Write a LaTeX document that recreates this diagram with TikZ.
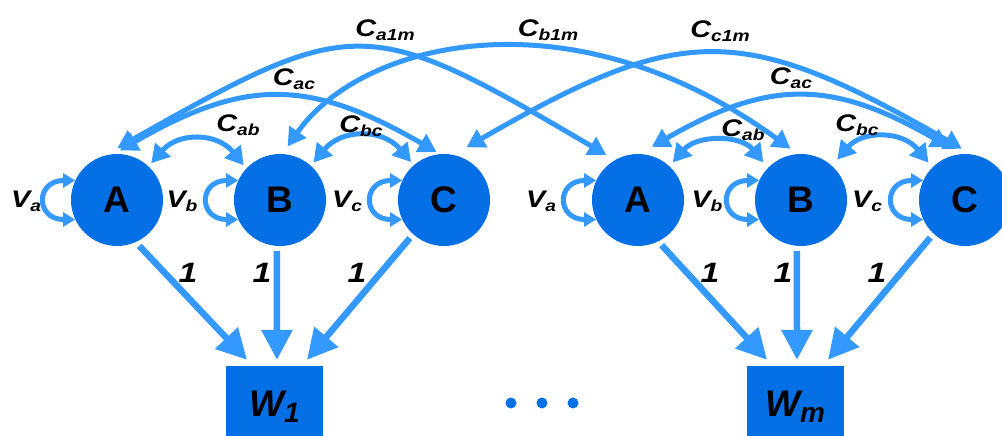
\documentclass[tikz,border=0pt]{standalone}
\usepackage{fontspec}
\setmainfont{Liberation Sans}
\newfontfamily\labfont[FakeStretch=1.2]{Liberation Sans}
\usetikzlibrary{arrows.meta}

\definecolor{nodeblue}{RGB}{5,112,230}
\definecolor{arrowblue}{RGB}{51,153,255}

% letter with a lowered subscript
\newcommand{\lbl}[2]{#1\raisebox{-4pt}{\fontsize{16}{16}\selectfont #2}}
\newcommand{\wsub}[1]{W\raisebox{-6pt}{\fontsize{28}{28}\selectfont #1}}

\tikzset{
    factor/.style={circle, fill=nodeblue, minimum size=92pt, inner sep=0pt,
        font=\fontsize{37}{40}\selectfont\bfseries},
    wbox/.style={rectangle, fill=nodeblue, minimum width=97pt, minimum height=82pt,
        inner sep=0pt, font=\fontsize{37}{40}\selectfont\bfseries\itshape},
    loading/.style={draw=arrowblue, line width=6.5pt, -{Triangle[width=30pt,length=30pt]}},
    covarc/.style={draw=arrowblue, line width=5pt,
        {Triangle[width=20pt,length=18pt]}-{Triangle[width=20pt,length=18pt]}},
    varloop/.style={draw=arrowblue, line width=5pt,
        {Triangle[width=14pt,length=12pt]}-{Triangle[width=14pt,length=12pt]}},
    lab/.style={font=\labfont\fontsize{24}{26}\selectfont\bfseries\itshape, inner sep=0pt},
    one/.style={font=\labfont\fontsize{28}{30}\selectfont\bfseries\itshape, inner sep=0pt}
}

\begin{document}
\begin{tikzpicture}[x=1pt, y=1pt]
    \clip (0,0) rectangle (1002,436);

    % Group 1
    \node[factor] (A1) at (117,236) {A};
    \node[factor] (B1) at (280,236) {B};
    \node[factor] (C1) at (444,236) {C};
    \node[wbox] (W1) at (274.5,29) {\wsub{1}};

    % Group m
    \node[factor] (A2) at (638,236) {A};
    \node[factor] (B2) at (801,236) {B};
    \node[factor] (C2) at (965,236) {C};
    \node[wbox] (Wm) at (795,29) {\wsub{m}};

    % Dots between the groups
    \fill[nodeblue] (511,33) circle (5.5) (542,33) circle (5.5) (573,33) circle (5.5);

    % Loadings, group 1
    \draw[loading, shorten <=5pt] (A1.-66) -- ([shift={(-27.5,6)}]W1.north);
    \draw[loading, shorten <=5pt] (B1.-94) -- ([shift={(2.5,6)}]W1.north);
    \draw[loading, shorten <=5pt] (C1.-132) -- ([shift={(32.5,6)}]W1.north);
    \node[one] (oneA1) at (188,163) {1};
    \node[one] (oneB1) at (262,163) {1};
    \node[one] (oneC1) at (357,163) {1};

    % Loadings, group m
    \draw[loading, shorten <=5pt] (A2.-64) -- ([shift={(-28,6)}]Wm.north);
    \draw[loading, shorten <=5pt] (B2.-95) -- ([shift={(2,6)}]Wm.north);
    \draw[loading, shorten <=5pt] (C2.-133) -- ([shift={(33,6)}]Wm.north);
    \node[one] (oneA2) at (710,163) {1};
    \node[one] (oneB2) at (783,163) {1};
    \node[one] (oneC2) at (877,163) {1};

    % Variances
    \draw[varloop] (A1.155) .. controls +(-40,0) and +(-40,0) .. (A1.205);
    \draw[varloop] (B1.155) .. controls +(-40,0) and +(-40,0) .. (B1.205);
    \draw[varloop] (C1.155) .. controls +(-40,0) and +(-40,0) .. (C1.205);
    \draw[varloop] (A2.155) .. controls +(-40,0) and +(-40,0) .. (A2.205);
    \draw[varloop] (B2.155) .. controls +(-40,0) and +(-40,0) .. (B2.205);
    \draw[varloop] (C2.155) .. controls +(-40,0) and +(-40,0) .. (C2.205);
    \node[lab] (Va1) at (26,235) {\lbl{V}{a}};
    \node[lab] (Vb1) at (182,235) {\lbl{V}{b}};
    \node[lab] (Vc1) at (347,235) {\lbl{V}{c}};
    \node[lab] (Va2) at (541,235) {\lbl{V}{a}};
    \node[lab] (Vb2) at (707,235) {\lbl{V}{b}};
    \node[lab] (Vc2) at (867,235) {\lbl{V}{c}};

    % Covariances within a group
    \draw[covarc, shorten <=4pt, shorten >=4pt] (A1.47) to[bend left=50, looseness=1.2] (B1.137);
    \draw[covarc, shorten <=4pt, shorten >=4pt] (B1.48) to[bend left=50, looseness=1.2] (C1.131);
    \draw[covarc, shorten <=7pt, shorten >=4pt] (A1.94) to[bend left=30, looseness=1.19] (C1.95);
    \draw[covarc, shorten <=5pt, shorten >=7pt] (A2.47) to[bend left=50, looseness=1.1] (B2.136);
    \draw[covarc, shorten <=8pt, shorten >=6pt] (B2.48) to[bend left=50, looseness=1.2] (C2.135);
    \draw[covarc, shorten <=14pt, shorten >=14pt] (A2.88) to[bend left=30, looseness=1.19] (C2.95);
    \node[lab] (Cab1) at (238,311) {\lbl{C}{ab}};
    \node[lab] (Cbc1) at (361,309.5) {\lbl{C}{bc}};
    \node[lab] (Cac1) at (294,357) {\lbl{C}{ac}};
    \node[lab] (Cab2) at (743,306) {\lbl{C}{ab}};
    \node[lab] (Cbc2) at (857,311) {\lbl{C}{bc}};
    \node[lab] (Cac2) at (791,358) {\lbl{C}{ac}};

    % Covariances between groups
    \draw[covarc, shorten <=15pt, shorten >=10pt] (A1.106) to[bend left=30, looseness=1.44] (A2.120);
    \draw[covarc, shorten <=9pt, shorten >=9pt] (B1.87) .. controls +(55:138) and +(144:280) .. (B2.94);
    \draw[covarc, shorten <=15pt, shorten >=11pt] (C1.78) to[bend left=30, looseness=1.31] (C2.82);
    \node[lab] (Ca1m) at (385,406) {\lbl{C}{a1m}};
    \node[lab] (Cb1m) at (548,406) {\lbl{C}{b1m}};
    \node[lab] (Cc1m) at (720,405) {\lbl{C}{c1m}};
\end{tikzpicture}
\end{document}
